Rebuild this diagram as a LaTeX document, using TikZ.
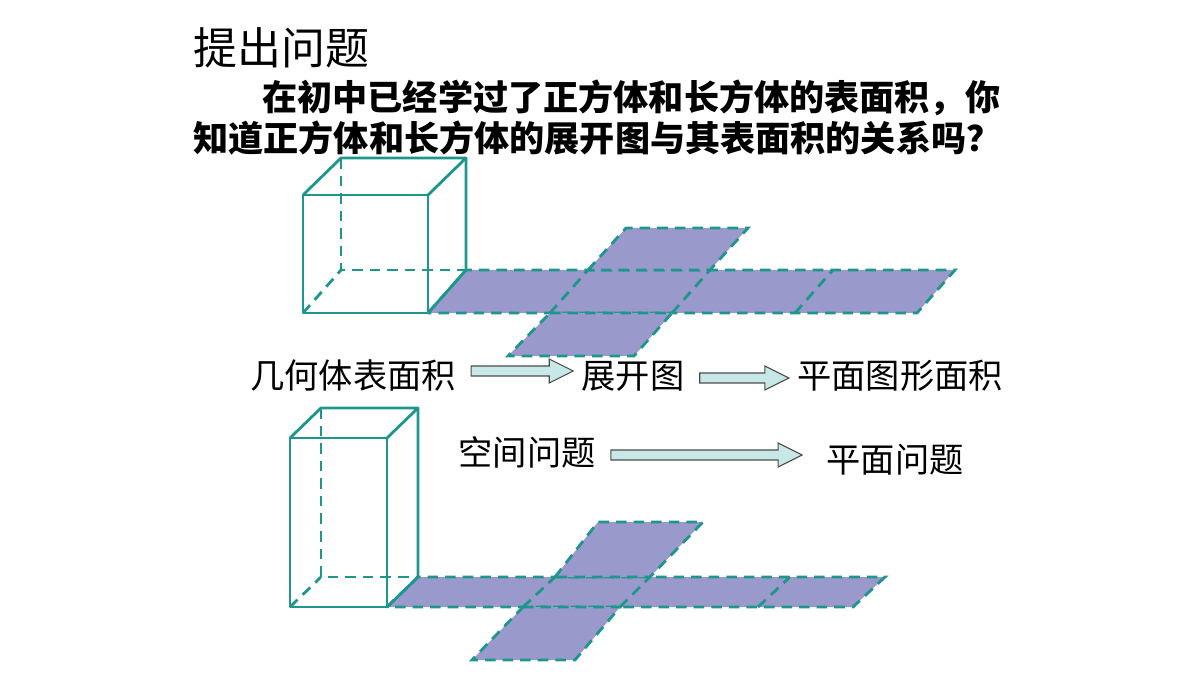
\documentclass[tikz,border=0pt]{standalone}
\usepackage{fontspec}
\setmainfont{Noto Sans CJK SC}
\usetikzlibrary{calc}
\definecolor{edgeteal}{RGB}{30,150,140}
\definecolor{facefill}{RGB}{154,153,204}
\definecolor{arrowfill}{RGB}{200,232,232}
\tikzset{
  solidedge/.style={edgeteal, line width=1.6pt, line join=round},
  hiddenedge/.style={edgeteal, line width=1.6pt, dash pattern=on 6pt off 4pt},
  netface/.style={fill=facefill, draw=edgeteal, line width=1.6pt, dash pattern=on 6pt off 4pt},
  label/.style={font=\fontsize{19.5}{23}\selectfont, inner sep=0pt},
  hollowarrow/.style={fill=arrowfill, draw=black!70, line width=0.6pt, line join=miter}
}
% block arrow from node #1 to node #2 at height #3, tip #4 before #2
\newcommand{\blockarrow}[4]{%
  \path ($(#1.east)+(15,0)$) coordinate (tail) ($(#2.west)+(-#4,0)$) coordinate (tip);
  \draw[hollowarrow] (tail |- 0,#3-5) -- ($(tip |- 0,#3-5)+(-24,0)$)
    -- ($(tip |- 0,#3-12)+(-24,0)$) -- (tip |- 0,#3) -- ($(tip |- 0,#3+12)+(-24,0)$)
    -- ($(tip |- 0,#3+5)+(-24,0)$) -- (tail |- 0,#3+5) -- cycle;}
\begin{document}
\begin{tikzpicture}[x=0.02cm, y=-0.02cm]
    \useasboundingbox (0,0) rectangle (1200,675);

    % ---------------------------------------------
    % heading and question
    \node[anchor=west, inner sep=0pt, font=\fontsize{25}{30}\selectfont] (title) at (193,48) {提出问题};
    \node[anchor=west, label, font=\fontsize{20}{24}\selectfont\bfseries] (line1) at (262,98) {在初中已经学过了正方体和长方体的表面积，你};
    \node[anchor=west, label, font=\fontsize{20}{24}\selectfont\bfseries] (line2) at (193,138) {知道正方体和长方体的展开图与其表面积的关系吗？};

    % ---------------------------------------------
    % cube and its net
    \draw[netface] (428,313) -- (466,270) -- (955,270) -- (917,313) -- cycle;
    \draw[netface] (588,270) -- (626,228) -- (748,228) -- (710,270) -- cycle;
    \draw[netface] (550,313) -- (672,313) -- (634,356) -- (508,356) -- cycle;
    \foreach \xb in {550,672,795}
      \draw[hiddenedge] (\xb,313) -- (\xb+38,270);
    \draw[hiddenedge] (341,158) -- (341,270) -- (466,270);
    \draw[hiddenedge] (303,313) -- (341,270);
    \draw[solidedge] (303,195) rectangle (428,313);
    \draw[solidedge] (303,195) -- (341,158) -- (466,158) -- (428,195);
    \draw[solidedge] (466,158) -- (466,270) -- (428,313);

    % ---------------------------------------------
    % flow of ideas
    \node[label] (solid) at (353,376) {几何体表面积};
    \node[label] (net) at (633,376) {展开图};
    \node[label] (plane) at (900,376) {平面图形面积};
    \node[label] (space) at (527,452) {空间问题};
    \node[label] (flat) at (895,460) {平面问题};
    \blockarrow{solid}{net}{371}{8}
    \blockarrow{net}{plane}{378}{8}
    \blockarrow{space}{flat}{455}{24}

    % ---------------------------------------------
    % cuboid and its net
    \draw[netface] (387,607) -- (418,577) -- (885,577) -- (853,607) -- cycle;
    \draw[netface] (555,577) -- (598,522) -- (703,522) -- (650,577) -- cycle;
    \draw[netface] (523,607) -- (620,607) -- (575,660) -- (472,660) -- cycle;
    \foreach \xb/\xt in {523/555,620/650,758/790}
      \draw[hiddenedge] (\xb,607) -- (\xt,577);
    \draw[hiddenedge] (321,408) -- (321,577) -- (418,577);
    \draw[hiddenedge] (290,607) -- (321,577);
    \draw[solidedge] (290,438) rectangle (387,607);
    \draw[solidedge] (290,438) -- (321,408) -- (418,408) -- (387,438);
    \draw[solidedge] (418,408) -- (418,577) -- (387,607);
\end{tikzpicture}
\end{document}
